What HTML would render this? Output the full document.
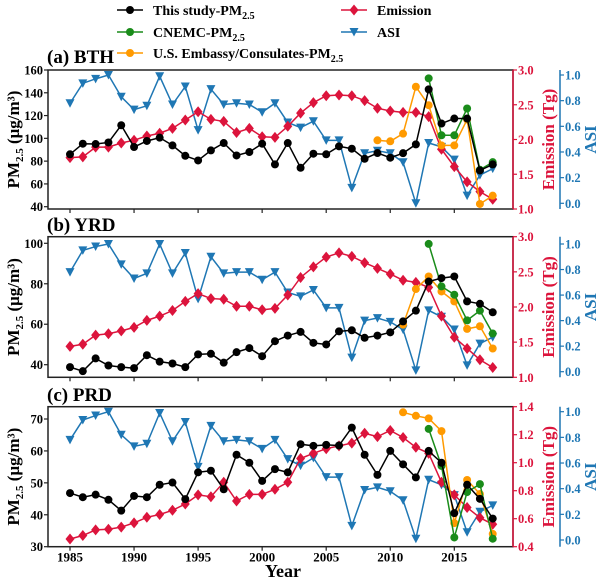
<!DOCTYPE html>
<html><head><meta charset="utf-8"><style>
body{margin:0;background:#fff;}
svg{display:block;font-family:"Liberation Serif",serif;font-weight:bold;}
</style></head><body>
<svg id="chart" width="600" height="582" viewBox="0 0 600 582" xmlns="http://www.w3.org/2000/svg"></svg>
<script>
const years = [];
for (let y = 1985; y <= 2018; y++) years.push(y);
const xTicks = [1985,1990,1995,2000,2005,2010,2015];

const bthThisStudy = [86,95.3,95,96.4,111.5,92.4,97.7,100.6,93.8,84.7,80.6,89.4,95.9,85,88,95.3,77.1,95.9,74.2,86.5,86,93,90.9,82.1,87.1,83,87,94.7,143,113,117.4,117.4,71.8,77.1];
const bthCnemc = [152.7,102.7,102.7,126.2,72.4,79.1];
const bthEmbassy = [98.3,97.4,104.1,145.3,129.1,93.8,93.8,116.5,42.4,49.7];
const bthEmission = [1.74,1.75,1.89,1.89,1.95,1.99,2.05,2.09,2.16,2.28,2.40,2.29,2.26,2.10,2.16,2.04,2.03,2.19,2.38,2.53,2.63,2.64,2.63,2.56,2.45,2.41,2.39,2.39,2.33,1.86,1.61,1.39,1.25,1.14];
const bthAsi = [0.78,0.935,0.97,1.0,0.83,0.73,0.76,0.99,0.77,0.91,0.57,0.89,0.77,0.78,0.77,0.71,0.78,0.63,0.59,0.64,0.49,0.49,0.12,0.39,0.41,0.39,0.32,0.0,0.47,0.44,0.34,0.06,0.22,0.27];

const yrdThisStudy = [38.8,36.8,43.1,39.6,38.8,38.3,44.7,41.5,40.6,38.8,45.1,45.4,41,46.2,48.2,44.2,51.6,54.4,56.2,50.8,50,56.5,57,53.3,54.4,56,61.4,66.7,81.1,82.8,83.6,71.3,70.1,65.9];
const yrdCnemc = [99.7,78.7,74.6,61.9,66.7,55.4];
const yrdEmbassy = [59.8,77.4,83.6,76.2,71.3,57.7,59,48];
const yrdEmission = [1.44,1.47,1.60,1.62,1.66,1.71,1.81,1.87,1.95,2.08,2.19,2.12,2.11,2.01,2.01,1.96,1.98,2.17,2.42,2.57,2.71,2.77,2.72,2.63,2.55,2.47,2.38,2.35,2.28,1.87,1.57,1.41,1.25,1.14];
const yrdAsi = [0.78,0.95,0.98,1.0,0.84,0.73,0.77,1.0,0.77,0.93,0.57,0.90,0.77,0.78,0.78,0.72,0.78,0.62,0.59,0.64,0.50,0.50,0.11,0.40,0.42,0.39,0.33,0.01,0.48,0.43,0.33,0.05,0.22,0.27];

const prdThisStudy = [46.8,45.5,46.3,44.7,41.3,45.9,45.5,49.4,50.1,44.9,53.3,53.8,48.0,58.8,56.3,50.6,54.3,53.3,62.1,61.6,61.9,61.7,67.3,58.8,52.5,60,55.8,51.7,60,56.3,40.5,49.4,45,38.8];
const prdCnemc = [66.9,55.3,32.9,47.1,49.6,32.5];
const prdEmbassy = [72.1,71,70.2,66.2,37.4,50.9,46.5,34];
const prdEmission = [0.455,0.48,0.52,0.525,0.54,0.57,0.61,0.63,0.66,0.705,0.77,0.757,0.86,0.726,0.774,0.774,0.81,0.86,1.03,1.067,1.10,1.12,1.14,1.21,1.186,1.23,1.18,1.11,1.067,0.86,0.77,0.68,0.607,0.56];
const prdAsi = [0.78,0.935,0.97,1.0,0.82,0.73,0.75,0.99,0.77,0.92,0.57,0.89,0.77,0.78,0.77,0.71,0.78,0.63,0.58,0.64,0.49,0.49,0.11,0.39,0.41,0.38,0.31,0.01,0.47,0.43,0.35,0.06,0.22,0.27];

const cnemcYears = [2013,2014,2015,2016,2017,2018];
const bthEmbassyYears = [2009,2010,2011,2012,2013,2014,2015,2016,2017,2018];
const otherEmbassyYears = [2011,2012,2013,2014,2015,2016,2017,2018];

const NS = "http://www.w3.org/2000/svg";
const svg = document.getElementById("chart");
const C = {black:"#000", green:"#1a8c1a", orange:"#ff9a00", red:"#dc143c", blue:"#1f77b4"};
const L = 48, R = 513;
const xScale = yr => 70 + (yr - 1985) * 12.81;

function el(tag, attrs, parent) {
  const e = document.createElementNS(NS, tag);
  for (const k in attrs) e.setAttribute(k, attrs[k]);
  (parent || svg).appendChild(e);
  return e;
}
function lin(v0, p0, v1, p1) { return v => p0 + (v - v0) * (p1 - p0) / (v1 - v0); }

function marker(g, kind, x, y, color) {
  let m;
  if (kind === "circle") m = el("circle", {cx:x, cy:y, r:4, fill:color}, g);
  else if (kind === "diamond") m = el("polygon", {points:`${x},${y-5.5} ${x+4.5},${y} ${x},${y+5.5} ${x-4.5},${y}`, fill:color}, g);
  else m = el("polygon", {points:`${x-4.5},${y-4} ${x+4.5},${y-4} ${x},${y+4.5}`, fill:color}, g);
  return m;
}
function series(name, xs, vals, ys, color, kind) {
  const g = el("g", {});
  
  
  const pts = xs.map((yr, i) => `${xScale(yr)},${ys(vals[i])}`).join(" ");
  el("polyline", {points:pts, fill:"none", stroke:color, "stroke-width":1.5}, g);
  xs.forEach((yr, i) => marker(g, kind, xScale(yr), ys(vals[i]), color));
}
function text(str, attrs, name) {
  const t = el("text", attrs);
  t.textContent = str;
  
  
  return t;
}

const panels = [
  {id:"bth", title:"(a) BTH", top:70, bot:209, titleY:63,
   left:lin(160,70,40,206.7), lTicks:[40,60,80,100,120,140,160],
   emis:lin(3,70,1,209), eTicks:[1.0,1.5,2.0,2.5,3.0],
   asi:lin(1,75,0,203.3),
   d:[bthThisStudy,bthCnemc,bthEmbassy,bthEmission,bthAsi], ey:bthEmbassyYears},
  {id:"yrd", title:"(b) YRD", top:236.7, bot:377.3, titleY:231,
   left:lin(100,243.3,40,364.7), lTicks:[40,60,80,100],
   emis:lin(3,236.7,1,377.3), eTicks:[1.0,1.5,2.0,2.5,3.0],
   asi:lin(1,244,0,371.7),
   d:[yrdThisStudy,yrdCnemc,yrdEmbassy,yrdEmission,yrdAsi], ey:otherEmbassyYears},
  {id:"prd", title:"(c) PRD", top:406.7, bot:546.7, titleY:401,
   left:lin(70,419,30,546.7), lTicks:[30,40,50,60,70],
   emis:lin(1.4,406.7,0.4,546.7), eTicks:[0.4,0.6,0.8,1.0,1.2,1.4],
   asi:lin(1,411.7,0,540),
   d:[prdThisStudy,prdCnemc,prdEmbassy,prdEmission,prdAsi], ey:otherEmbassyYears}
];

panels.forEach((p, pi) => {
  const f = el("rect", {x:L, y:p.top, width:R-L, height:p.bot-p.top, fill:"none", stroke:"#222", "stroke-width":1.5});
  
  
  el("line", {x1:R, y1:p.top, x2:R, y2:p.bot, stroke:C.red, "stroke-width":1.5});
  el("line", {x1:560, y1:p.top, x2:560, y2:p.bot, stroke:C.blue, "stroke-width":1.5});
  text(p.title, {x:47, y:p.titleY, "font-size":19}, p.id + '-panel-title');
  p.lTicks.forEach(v => {
    const y = p.left(v);
    el("line", {x1:L-4, y1:y, x2:L, y2:y, stroke:"#222", "stroke-width":1.2});
    text(String(v), {x:L-5, y:y+4.5, "font-size":12.5, "text-anchor":"end"}, p.id + '-y-tick-label');
  });
  p.eTicks.forEach(v => {
    const y = p.emis(v);
    el("line", {x1:R, y1:y, x2:R+4, y2:y, stroke:C.red, "stroke-width":1.2});
    text(v.toFixed(1), {x:R+5, y:y+4.5, "font-size":12.5, fill:C.red}, p.id + '-emission-tick-label');
  });
  [0,0.2,0.4,0.6,0.8,1.0].forEach(v => {
    const y = p.asi(v);
    el("line", {x1:560, y1:y, x2:564, y2:y, stroke:C.blue, "stroke-width":1.2});
    text(v.toFixed(1), {x:565, y:y+4.5, "font-size":12.5, fill:C.blue}, p.id + '-asi-tick-label');
  });
  xTicks.forEach(yr => {
    const x = xScale(yr);
    el("line", {x1:x, y1:p.bot, x2:x, y2:p.bot+4, stroke:"#222", "stroke-width":1.2});
    if (pi === 2) text(String(yr), {x:x, y:p.bot+15, "font-size":13, "text-anchor":"middle"}, 'x-tick-label');
  });
  const mid = (p.top + p.bot) / 2;
  const lt = el("text", {x:0, y:0, "font-size":17, "text-anchor":"middle", transform:`translate(19,${mid}) rotate(-90)`});
  
  
  lt.innerHTML = 'PM<tspan font-size="11" dy="4">2.5</tspan><tspan dy="-4"> (μg/m³)</tspan>';
  text("Emission (Tg)", {x:0, y:0, "font-size":17, fill:C.red, "text-anchor":"middle", transform:`translate(554,${mid}) rotate(-90)`}, p.id + '-emission-axis-title');
  text("ASI", {x:0, y:0, "font-size":17, fill:C.blue, "text-anchor":"middle", transform:`translate(596,${mid}) rotate(-90)`}, p.id + '-asi-axis-title');
  series(p.id + '-asi-line', years, p.d[4], p.asi, C.blue, "tri");
  series(p.id + '-emission-line', years, p.d[3], p.emis, C.red, "diamond");
  series(p.id + '-embassy-pm25-line', p.ey, p.d[2], p.left, C.orange, "circle");
  series(p.id + '-cnemc-pm25-line', cnemcYears, p.d[1], p.left, C.green, "circle");
  series(p.id + '-this-study-pm25-line', years, p.d[0], p.left, C.black, "circle");
});

text("Year", {x:283, y:577, "font-size":18, "text-anchor":"middle"}, 'x-axis-title');

const legend = [
  {lbl:"This study-PM", sub:true, c:C.black, k:"circle", x:130, y:10, n:"legend-this-study"},
  {lbl:"CNEMC-PM", sub:true, c:C.green, k:"circle", x:130, y:32, n:"legend-cnemc"},
  {lbl:"U.S. Embassy/Consulates-PM", sub:true, c:C.orange, k:"circle", x:130, y:53, n:"legend-embassy"},
  {lbl:"Emission", sub:false, c:C.red, k:"diamond", x:354, y:10, n:"legend-emission"},
  {lbl:"ASI", sub:false, c:C.blue, k:"tri", x:354, y:32, n:"legend-asi"}
];
legend.forEach(e => {
  const g = el("g", {});
  
  
  el("line", {x1:e.x-13, y1:e.y, x2:e.x+13, y2:e.y, stroke:e.c, "stroke-width":1.5}, g);
  marker(g, e.k, e.x, e.y, e.c);
  const t = el("text", {x:e.x+23, y:e.y+5, "font-size":14}, g);
  t.innerHTML = e.lbl + (e.sub ? '<tspan font-size="10" dy="4">2.5</tspan>' : '');
});
</script>
</body></html>
